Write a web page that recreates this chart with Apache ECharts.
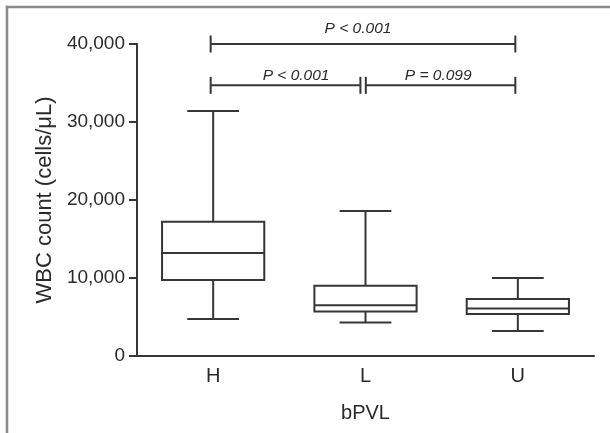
<!DOCTYPE html>
<html>
<head>
<meta charset="utf-8">
<script src="https://cdn.jsdelivr.net/npm/echarts@6/dist/echarts.min.js"></script>
<style>
  html, body { margin: 0; padding: 0; background: #fff; }
  #chart { width: 610px; height: 433px; }
</style>
</head>
<body>
<div id="chart"></div>
<script>
// ---- data ----
const categories = ['H', 'L', 'U'];
const whiskerLow = [4750, 4300, 3200];
const q1 = [9750, 5700, 5400];
const median = [13200, 6500, 6100];
const q3 = [17200, 9000, 7300];
const whiskerHigh = [31400, 18600, 10000];

const yTicks = [0, 10000, 20000, 30000, 40000];

const bracketFrom = ['H', 'H', 'L'];
const bracketTo = ['U', 'L', 'U'];
const bracketY = [40000, 34700, 34700];
const bracketText = ['P < 0.001', 'P < 0.001', 'P = 0.099'];

// ---- rendering ----
const FONT = '"Liberation Sans", Arial, Helvetica, sans-serif';
const INK = '#363636';
const TXT = '#2a2a2a';
const labelDx = [-5, 10.5, -2.4];
const labelDy = [-15.5, -10, -10];

const boxData = categories.map((c, i) => [i, whiskerLow[i], q1[i], median[i], q3[i], whiskerHigh[i]]);
const bracketData = bracketFrom.map((f, i) => [categories.indexOf(f), categories.indexOf(bracketTo[i]), bracketY[i], i]);

const chart = echarts.init(document.getElementById('chart'), null, { renderer: 'canvas' });

const option = {
  backgroundColor: '#fff',
  animation: false,
  grid: { left: 137, right: 16, top: 44, bottom: 77, containLabel: false },
  xAxis: {
    type: 'category',
    data: categories,
    boundaryGap: true,
    name: 'bPVL',
    nameLocation: 'middle',
    nameGap: 47,
    nameTextStyle: { fontFamily: FONT, fontSize: 20, color: TXT },
    axisLine: { lineStyle: { color: INK, width: 2 } },
    axisTick: { alignWithLabel: true, length: 6, lineStyle: { color: INK, width: 2 } },
    axisLabel: { fontFamily: FONT, fontSize: 20, color: TXT, margin: 10 },
    splitLine: { show: false }
  },
  yAxis: {
    type: 'value',
    min: 0,
    max: 40000,
    interval: 10000,
    name: 'WBC count (cells/\u03bcL)',
    nameLocation: 'middle',
    nameGap: 80,
    nameTextStyle: { fontFamily: FONT, fontSize: 22, color: TXT },
    axisLine: { show: true, lineStyle: { color: INK, width: 2 } },
    axisTick: { show: true, length: 8, lineStyle: { color: INK, width: 2 } },
    axisLabel: {
      fontFamily: FONT, fontSize: 19, color: TXT, margin: 12,
      formatter: v => yTicks.includes(v) ? v.toLocaleString('en-US') : ''
    },
    splitLine: { show: false }
  },
  series: [
    {
      type: 'custom',
      data: boxData,
      clip: false,
      renderItem: function (params, api) {
        const x = api.value(0);
        const pLow = api.coord([x, api.value(1)]);
        const pQ1 = api.coord([x, api.value(2)]);
        const pMed = api.coord([x, api.value(3)]);
        const pQ3 = api.coord([x, api.value(4)]);
        const pHigh = api.coord([x, api.value(5)]);
        const band = api.size([1, 0])[0];
        const bw = band * 0.671;
        const cw = band * 0.34;
        const cx = pMed[0];
        const st = { stroke: INK, lineWidth: 2, fill: null };
        return {
          type: 'group',
          children: [
            { type: 'line', shape: { x1: cx, y1: pHigh[1], x2: cx, y2: pQ3[1] }, style: st },
            { type: 'line', shape: { x1: cx, y1: pQ1[1], x2: cx, y2: pLow[1] }, style: st },
            { type: 'line', shape: { x1: cx - cw / 2, y1: pHigh[1], x2: cx + cw / 2, y2: pHigh[1] }, style: st },
            { type: 'line', shape: { x1: cx - cw / 2, y1: pLow[1], x2: cx + cw / 2, y2: pLow[1] }, style: st },
            { type: 'rect', shape: { x: cx - bw / 2, y: pQ3[1], width: bw, height: pQ1[1] - pQ3[1] }, style: { stroke: INK, lineWidth: 2, fill: '#fff' } },
            { type: 'line', shape: { x1: cx - bw / 2, y1: pMed[1], x2: cx + bw / 2, y2: pMed[1] }, style: st }
          ]
        };
      }
    },
    {
      type: 'custom',
      data: bracketData,
      clip: false,
      renderItem: function (params, api) {
        const i0 = api.value(0), i1 = api.value(1), yv = api.value(2), k = api.value(3);
        const last = categories.length - 1;
        const a = api.coord([i0, yv]);
        const b = api.coord([i1, yv]);
        let x1 = a[0] - 2.5, x2 = b[0] - 2.5;
        if (i0 !== 0 && i0 !== last) x1 += 2.8;
        if (i1 !== 0 && i1 !== last) x2 -= 2.6;
        const y = a[1];
        const h = 8.5;
        const st = { stroke: INK, lineWidth: 2 };
        return {
          type: 'group',
          children: [
            { type: 'line', shape: { x1: x1, y1: y, x2: x2, y2: y }, style: st },
            { type: 'line', shape: { x1: x1, y1: y - h, x2: x1, y2: y + h }, style: st },
            { type: 'line', shape: { x1: x2, y1: y - h, x2: x2, y2: y + h }, style: st },
            {
              type: 'text',
              style: {
                x: (x1 + x2) / 2 + labelDx[k], y: y + labelDy[k],
                text: bracketText[k],
                fontFamily: FONT, fontSize: 15.5, fontStyle: 'italic',
                fill: TXT, align: 'center', verticalAlign: 'middle'
              }
            }
          ]
        };
      }
    }
  ],
  graphic: [
    { type: 'line', shape: { x1: 5.8, y1: 7, x2: 610, y2: 7 }, style: { stroke: '#8a8a8a', lineWidth: 2.5 } },
    { type: 'line', shape: { x1: 7, y1: 5.8, x2: 7, y2: 433 }, style: { stroke: '#8a8a8a', lineWidth: 2.5 } }
  ]
};

chart.setOption(option);
</script>
</body>
</html>
